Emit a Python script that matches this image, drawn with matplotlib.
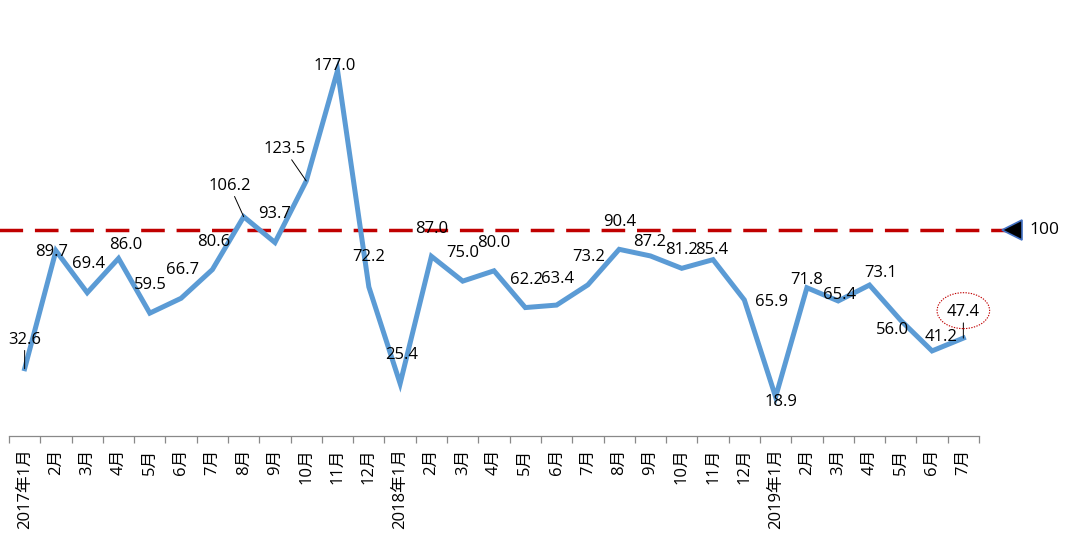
import matplotlib
matplotlib.use("Agg")
import matplotlib.pyplot as plt
from matplotlib.patches import Ellipse

plt.rcParams['font.family'] = ['Open Sans', 'Noto Sans CJK SC', 'DejaVu Sans']

categories = ["2017年1月", "2月", "3月", "4月", "5月", "6月", "7月", "8月", "9月", "10月", "11月", "12月",
              "2018年1月", "2月", "3月", "4月", "5月", "6月", "7月", "8月", "9月", "10月", "11月", "12月",
              "2019年1月", "2月", "3月", "4月", "5月", "6月", "7月"]
values = [32.6, 89.7, 69.4, 86.0, 59.5, 66.7, 80.6, 106.2, 93.7, 123.5, 177.0, 72.2,
          25.4, 87.0, 75.0, 80.0, 62.2, 63.4, 73.2, 90.4, 87.2, 81.2, 85.4, 65.9,
          18.9, 71.8, 65.4, 73.1, 56.0, 41.2, 47.4]
reference_level = 100

# label offsets in pixels (dx right, dy up) relative to each point
label_offsets = [(0, 29), (-4, -1), (1, 29), (7, 13), (1, 28), (1, 28), (1, 28), (-14, 31),
                 (0, 29), (-22, 32), (-3, 5), (0, 30), (1, 29), (0, 27), (0, 28), (0, 28),
                 (1, 28), (1, 26), (1, 28), (1, 27), (-1, 14), (0, 18), (-1, 10), (27, -2),
                 (5, -5), (0, 8), (1, 6), (11, 12), (-8, -10), (9, 14), (0, 26)]
leader_idx = [0, 7, 9, 30]

fig = plt.figure(figsize=(10.82, 5.52), dpi=100)
ax = fig.add_axes([9 / 1082, (552 - 436) / 552, 970 / 1082, 426 / 552])
n = len(values)
x = list(range(n))
ax.set_xlim(-0.5, n - 0.5)
ax.set_ylim(0, 206.3)

ax.plot(x, values, color='#5B9BD5', linewidth=3.6, solid_joinstyle='miter', zorder=3)

# reference line
ax.plot([-1.05, n + 0.55], [reference_level, reference_level], color='#C00000', linewidth=2.5,
        dashes=(6.8, 3.4), clip_on=False, zorder=2)
ax.plot([n + 0.55], [reference_level], marker='<', markersize=14, markerfacecolor='black',
        markeredgecolor='#4472C4', markeredgewidth=1.2, clip_on=False, zorder=4)
ax.annotate(str(reference_level), xy=(n + 0.55, reference_level), xytext=(18, 0),
            textcoords='offset pixels', ha='left', va='center', fontsize=12.5, annotation_clip=False)

for i, v in enumerate(values):
    dx, dy = label_offsets[i]
    kw = {}
    if i in leader_idx:
        kw['arrowprops'] = dict(arrowstyle='-', color='black', lw=0.7, shrinkA=0, shrinkB=0)
    ax.annotate(f"{v:.1f}", xy=(i, v), xytext=(dx, dy), textcoords='offset pixels',
                ha='center', va='center', fontsize=12, zorder=5, **kw)

# highlight ellipse around the latest value
ell = Ellipse((n - 1, values[-1] + 13.3), width=1.68, height=17.4, fill=False,
              edgecolor='#C00000', linestyle=(0, (1.2, 1.2)), linewidth=0.8, zorder=5,
              clip_on=False)
ax.add_patch(ell)

for s in ['top', 'right', 'left']:
    ax.spines[s].set_visible(False)
ax.spines['bottom'].set_color('#898989')
ax.spines['bottom'].set_linewidth(0.9)
ax.set_yticks([])
ax.set_xticks([i - 0.5 for i in range(n + 1)])
ax.set_xticklabels([])
ax.set_xticks(x, minor=True)
ax.set_xticklabels(categories, minor=True, rotation=90, fontsize=12, va='top', ha='center')
ax.tick_params(axis='x', which='major', length=5, color='#898989', width=0.9)
ax.tick_params(axis='x', which='minor', length=0, pad=9)

fig.savefig('out.png', dpi=100)
